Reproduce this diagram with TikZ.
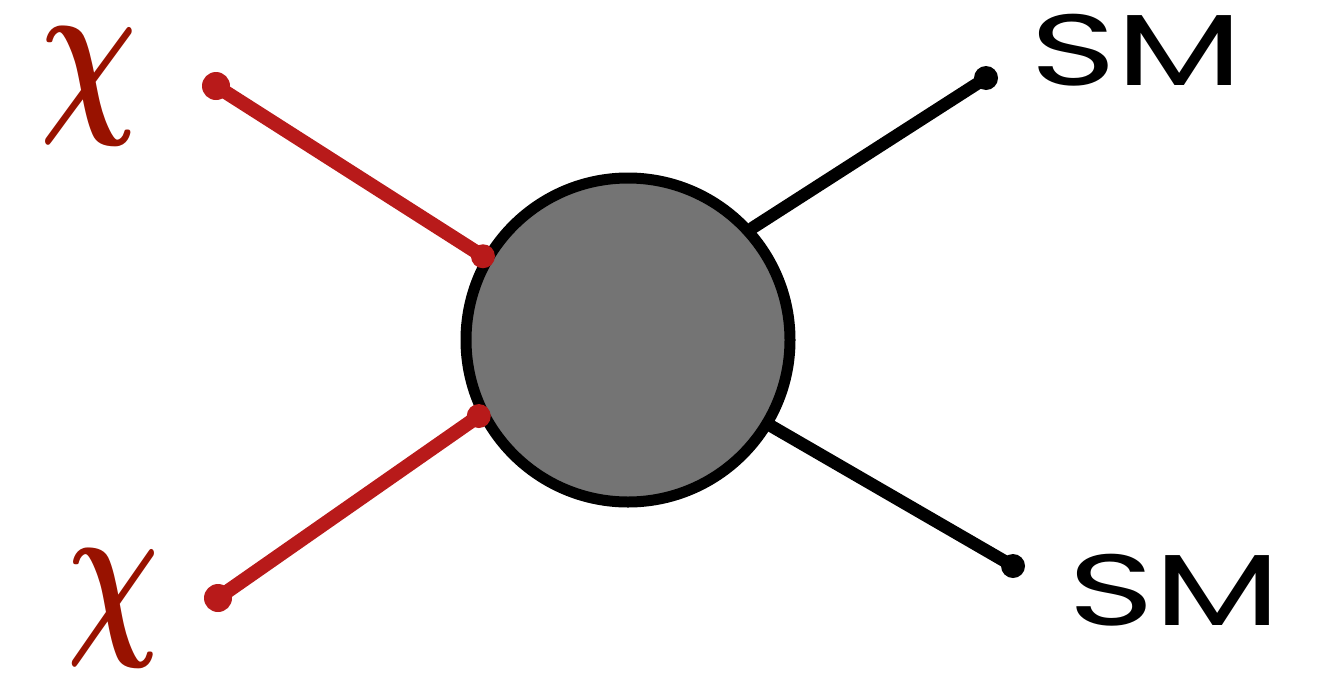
\documentclass[tikz,border=0pt]{standalone}
\usepackage{graphicx}
\usepackage{amsmath}
\usepackage{fontspec}
\newfontfamily\smfont{Poppins}
\definecolor{linered}{HTML}{B81A1A}
\definecolor{chired}{HTML}{981200}
\definecolor{blobgrey}{HTML}{747474}
\tikzset{
  blobstyle/.style={circle, draw=black, fill=blobgrey, line width=11pt, minimum size=324pt, inner sep=0pt},
  redleg/.style={draw=linered, line width=14pt, line cap=round},
  blackleg/.style={draw=black, line width=12.5pt, line cap=round},
  reddot/.style={fill=linered},
  blackdot/.style={fill=black},
  chilabel/.style={text=chired, inner sep=0pt},
  smlabel/.style={text=black, inner sep=0pt, font=\smfont},
}
\begin{document}
\begin{tikzpicture}[x=1pt,y=-1pt]
\useasboundingbox (0,0) rectangle (1327,675);
\node[blobstyle] (blob) at (628,340) {};
\coordinate (r1) at (216,86);
\coordinate (r2) at (218,598);
\coordinate (b1) at (986,78);
\coordinate (b2) at (1013,566);
\draw[redleg] (r1) -- (blob.150);
\draw[redleg] (r2) -- (blob.207);
\draw[blackleg] (b1) -- (blob.42);
\draw[blackleg] (b2) -- (blob.-31);
\fill[reddot] (r1) circle (14pt);
\fill[reddot] (r2) circle (14pt);
\fill[reddot] (blob.150) circle (12pt);
\fill[reddot] (blob.207) circle (12pt);
\fill[blackdot] (b1) circle (12pt);
\fill[blackdot] (b2) circle (12pt);
\node[chilabel] (chi1) at (89,86) {\resizebox*{97pt}{118pt}{$\boldsymbol{\chi}$}};
\node[chilabel] (chi2) at (114,608) {\resizebox*{92pt}{118pt}{$\boldsymbol{\chi}$}};
\node[smlabel] (sm1) at (1137,50) {\resizebox*{212pt}{72pt}{SM}};
\node[smlabel] (sm2) at (1175,590) {\resizebox*{212pt}{72pt}{SM}};
\end{tikzpicture}
\end{document}
